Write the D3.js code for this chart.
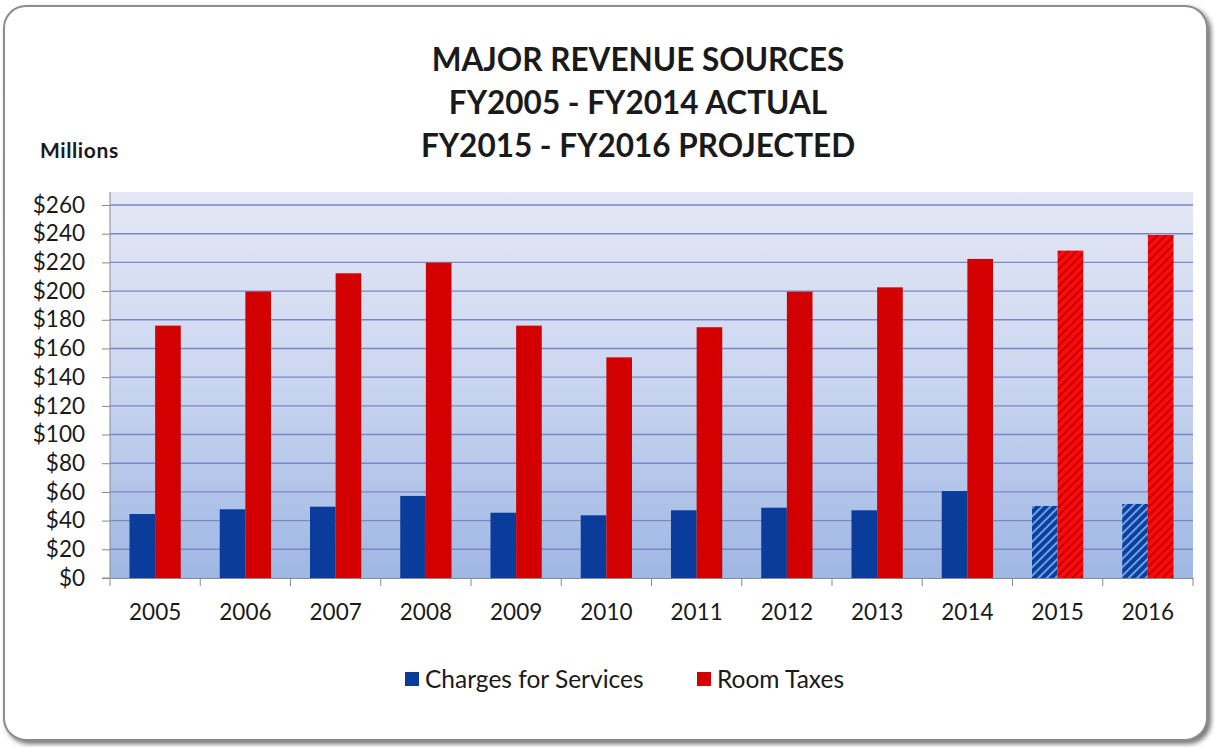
<!DOCTYPE html>
<html>
<head>
<meta charset="utf-8">
<script src="https://cdn.jsdelivr.net/npm/d3@7"></script>
<style>
  html, body { margin: 0; padding: 0; background: #ffffff; }
  svg { display: block; }
  text { font-family: Lato, "Open Sans", "DejaVu Sans", sans-serif; fill: #1a1a1a; }
</style>
</head>
<body>
<svg id="chart" width="1215" height="747"></svg>
<script>
// Fiscal years shown on the category axis
const years = ["2005","2006","2007","2008","2009","2010","2011","2012","2013","2014","2015","2016"];
// Years that are projections rather than actuals
const projectedYears = ["2015","2016"];
// Revenue in millions of dollars
const chargesForServices = [44.6, 47.9, 49.7, 57.2, 45.5, 43.7, 47.2, 49.0, 47.2, 60.6, 50.2, 51.6];
const roomTaxes = [175.9, 199.7, 212.4, 219.8, 175.9, 153.8, 174.8, 199.6, 202.6, 222.4, 228.2, 239.1];
const seriesNames = ["Charges for Services", "Room Taxes"];
const yTicks = [0, 20, 40, 60, 80, 100, 120, 140, 160, 180, 200, 220, 240, 260];
const titleLines = ["MAJOR REVENUE SOURCES", "FY2005 - FY2014 ACTUAL", "FY2015 - FY2016 PROJECTED"];

const svg = d3.select("#chart");
const defs = svg.append("defs");

// Soft shadow for the outer frame
const shadow = defs.append("filter").attr("id", "frameShadow")
  .attr("x", "-5%").attr("y", "-5%").attr("width", "110%").attr("height", "110%");
shadow.append("feDropShadow").attr("dx", 3).attr("dy", 3).attr("stdDeviation", 2.5)
  .attr("flood-color", "#444").attr("flood-opacity", 0.75);

// Plot area background: pale lavender fading into blue
const bg = defs.append("linearGradient").attr("id", "plotBg")
  .attr("x1", 0).attr("y1", 0).attr("x2", 0).attr("y2", 1);
bg.append("stop").attr("offset", "0%").attr("stop-color", "#e4e7f5");
bg.append("stop").attr("offset", "45%").attr("stop-color", "#cdd8f0");
bg.append("stop").attr("offset", "100%").attr("stop-color", "#9fb7e4");

// Hatch patterns for projected years
function hatch(id, base, stripe) {
  const p = defs.append("pattern").attr("id", id)
    .attr("patternUnits", "userSpaceOnUse")
    .attr("width", 6).attr("height", 6)
    .attr("patternTransform", "rotate(45)");
  p.append("rect").attr("width", 6).attr("height", 6).attr("fill", base);
  p.append("rect").attr("x", 0).attr("width", 2).attr("height", 6).attr("fill", stripe);
}
hatch("hatchBlue", "#0d3f9c", "#6aa2e8");
hatch("hatchRed", "#ff0a0a", "#c00000");

const colors = ["#0a3c9c", "#d20000"];
const hatches = ["url(#hatchBlue)", "url(#hatchRed)"];

// Outer frame
svg.append("rect")
  .attr("x", 4).attr("y", 6).attr("width", 1203).attr("height", 734)
  .attr("rx", 22).attr("ry", 22)
  .attr("fill", "#ffffff").attr("stroke", "#8c8c8c").attr("stroke-width", 2)
  .attr("filter", "url(#frameShadow)");

// Title
svg.append("g").selectAll("text").data(titleLines).join("text")
  .attr("x", 638).attr("y", (d, i) => 71 + i * 43)
  .attr("text-anchor", "middle")
  .attr("font-size", 31.5).attr("font-weight", 700)
  .text(d => d);

svg.append("text").attr("x", 40).attr("y", 158)
  .attr("font-size", 21).attr("font-weight", 700).attr("letter-spacing", 0.6).text("Millions");

// Scales
const plotLeft = 110, plotRight = 1193, plotTop = 192;
const x = d3.scaleBand().domain(years).range([plotLeft, plotRight]);
const y = d3.scaleLinear().domain([0, 260]).range([578, 205]);
const bw = x.bandwidth();
const x1 = d3.scaleBand().domain(seriesNames).range([bw * 0.216, bw * 0.784]);

// Background
svg.append("rect")
  .attr("x", plotLeft).attr("y", plotTop)
  .attr("width", plotRight - plotLeft).attr("height", y(0) - plotTop)
  .attr("fill", "url(#plotBg)");

// Gridlines
svg.append("g").selectAll("line").data(yTicks.filter(d => d > 0)).join("line")
  .attr("x1", plotLeft).attr("x2", plotRight)
  .attr("y1", d => y(d)).attr("y2", d => y(d))
  .attr("stroke", "#7d86c8").attr("stroke-width", 1.4);

// Bars
const rows = years.map((yr, i) => ({ yr, vals: [chargesForServices[i], roomTaxes[i]] }));
const groups = svg.append("g").selectAll("g").data(rows).join("g")
  .attr("transform", d => `translate(${x(d.yr)},0)`);
groups.selectAll("rect")
  .data(d => d.vals.map((v, k) => ({ v, k, projected: projectedYears.includes(d.yr) })))
  .join("rect")
  .attr("x", d => x1(seriesNames[d.k]))
  .attr("width", x1.bandwidth())
  .attr("y", d => y(d.v))
  .attr("height", d => y(0) - y(d.v))
  .attr("fill", d => d.projected ? hatches[d.k] : colors[d.k]);

// Y axis
const yAxis = d3.axisLeft(y).tickValues(yTicks).tickSize(8).tickPadding(17)
  .tickFormat(d => "$" + d);
const gy = svg.append("g").attr("transform", `translate(${plotLeft},0)`).call(yAxis);
gy.select(".domain").attr("stroke", "#8a8a8a").attr("d", `M-8,${y(0)}H0V${plotTop}`);
gy.selectAll(".tick line").attr("stroke", "#8a8a8a");
gy.selectAll(".tick text").attr("font-size", 22.5).attr("fill", "#1a1a1a")
  .style("font-family", "Lato, 'Open Sans', sans-serif");

// X axis
const xAxis = d3.axisBottom(x).tickSize(0).tickPadding(26);
const gx = svg.append("g").attr("transform", `translate(0,${y(0)})`).call(xAxis);
gx.select(".domain").attr("stroke", "#8a8a8a");
gx.selectAll(".tick text").attr("font-size", 22.5).attr("fill", "#1a1a1a")
  .style("font-family", "Lato, 'Open Sans', sans-serif");
// Category separator ticks
svg.append("g").selectAll("line").data(years.concat(["end"])).join("line")
  .attr("x1", (d, i) => plotLeft + i * bw).attr("x2", (d, i) => plotLeft + i * bw)
  .attr("y1", y(0)).attr("y2", y(0) + 8)
  .attr("stroke", "#8a8a8a");

// Legend
const legendX = [405, 697];
const lg = svg.append("g").selectAll("g").data(seriesNames).join("g")
  .attr("transform", (d, i) => `translate(${legendX[i]},672)`);
lg.append("rect").attr("width", 14).attr("height", 14).attr("fill", (d, i) => colors[i]);
lg.append("text").attr("x", 20).attr("y", 16).attr("font-size", 24.5).text(d => d);
</script>
</body>
</html>
